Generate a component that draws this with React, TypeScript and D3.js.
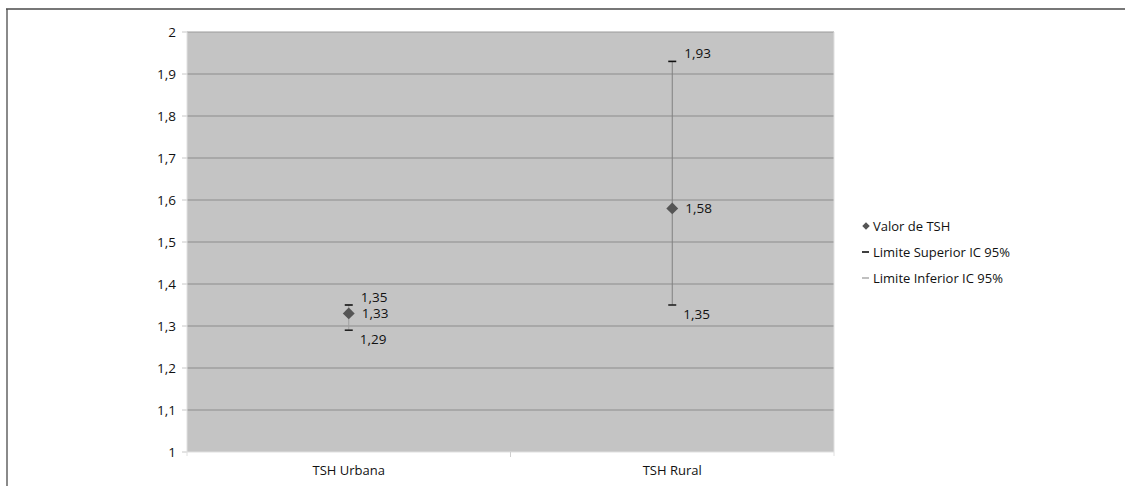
import React from "react";
import * as d3 from "d3";

const categories = ["TSH Urbana", "TSH Rural"];
const values = [1.33, 1.58];
const upper = [1.35, 1.93];
const lower = [1.29, 1.35];
const yTicks = [1, 1.1, 1.2, 1.3, 1.4, 1.5, 1.6, 1.7, 1.8, 1.9, 2];
const legendItems = ["Valor de TSH", "Limite Superior IC 95%", "Limite Inferior IC 95%"];

const W = 1125, H = 486;
const plot = { left: 187, right: 834, top: 32, bottom: 452 };
const font = "'Open Sans', 'Liberation Sans', sans-serif";
const fmt = (v: number) => String(Math.round(v * 100) / 100).replace(".", ",");

export default function App() {
  const x = d3.scaleBand<string>().domain(categories).range([plot.left, plot.right]);
  const y = d3.scaleLinear().domain([1, 2]).range([plot.bottom, plot.top]);
  const cx = (c: string) => (x(c) as number) + x.bandwidth() / 2;
  const diamond = d3.symbol().type(d3.symbolDiamond2).size(90)();

  return (
    <svg width={W} height={H} style={{ position: "absolute", left: 0, top: 0, background: "#fff" }} fontFamily={font}>
      <line x1={7} x2={7} y1={9} y2={H} stroke="#8a8a8a" strokeWidth={2} />
      <line x1={6} x2={W} y1={9} y2={9} stroke="#4a4a4a" strokeWidth={1.5} />
      <rect x={plot.left} y={plot.top} width={plot.right - plot.left} height={plot.bottom - plot.top} fill="#c4c4c4" />
      {yTicks.map((t) => (
        <g key={t}>
          {t > 1 && (
            <line x1={plot.left} x2={plot.right} y1={y(t)} y2={y(t)} stroke={t === 2 ? "#9a9a9a" : "#8c8c8c"} strokeWidth={1} />
          )}
          <line x1={plot.left - 5} x2={plot.left} y1={y(t)} y2={y(t)} stroke="#c8c8c8" />
          <text x={176} y={y(t)} dy="0.35em" textAnchor="end" fontSize={13.5} fill="#111">{fmt(t)}</text>
        </g>
      ))}
      <line x1={plot.left} x2={plot.left} y1={plot.top} y2={plot.bottom + 4} stroke="#e0e0e0" />
      <line x1={plot.right} x2={plot.right} y1={plot.top} y2={plot.bottom + 4} stroke="#e0e0e0" />
      <line x1={plot.left} x2={plot.right} y1={plot.bottom} y2={plot.bottom} stroke="#e0e0e0" />
      {categories.slice(1).map((c) => (
        <line key={c} x1={x(c) as number} x2={x(c) as number} y1={plot.bottom} y2={plot.bottom + 5} stroke="#cfcfcf" />
      ))}
      {categories.map((c) => (
        <text key={c} x={cx(c)} y={475} textAnchor="middle" fontSize={13} fill="#111">{c}</text>
      ))}
      {categories.map((c, i) => {
        const px = cx(c);
        return (
          <g key={c}>
            <line x1={px} x2={px} y1={y(upper[i])} y2={y(lower[i])} stroke={i === 0 ? "#a0a0a0" : "#808080"} strokeWidth={1} />
            <line x1={px - 4} x2={px + 4} y1={y(upper[i])} y2={y(upper[i])} stroke="#111" strokeWidth={1.6} />
            <line x1={px - 4} x2={px + 4} y1={y(lower[i])} y2={y(lower[i])} stroke="#222" strokeWidth={1.6} />
            <path d={diamond as string} transform={`translate(${px},${y(values[i])})`} fill="#555" />
            <text x={px + 12} y={y(upper[i]) - 8} dy="0.35em" fontSize={13.5} fill="#111">{fmt(upper[i])}</text>
            <text x={px + 13} y={y(values[i])} dy="0.35em" fontSize={13.5} fill="#111">{fmt(values[i])}</text>
            <text x={px + 11} y={y(lower[i]) + 9} dy="0.35em" fontSize={13.5} fill="#111">{fmt(lower[i])}</text>
          </g>
        );
      })}
      {legendItems.map((l, i) => {
        const ly = 226 + i * 26;
        return (
          <g key={l}>
            {i === 0 && <path d={d3.symbol().type(d3.symbolDiamond2).size(36)() as string} transform={`translate(866,${ly})`} fill="#555" />}
            {i === 1 && <line x1={862} x2={869} y1={ly} y2={ly} stroke="#111" strokeWidth={1.6} />}
            {i === 2 && <line x1={862} x2={869} y1={ly} y2={ly} stroke="#b0b0b0" strokeWidth={1.6} />}
            <text x={873} y={ly} dy="0.35em" fontSize={13} fill="#111">{l}</text>
          </g>
        );
      })}
    </svg>
  );
}
